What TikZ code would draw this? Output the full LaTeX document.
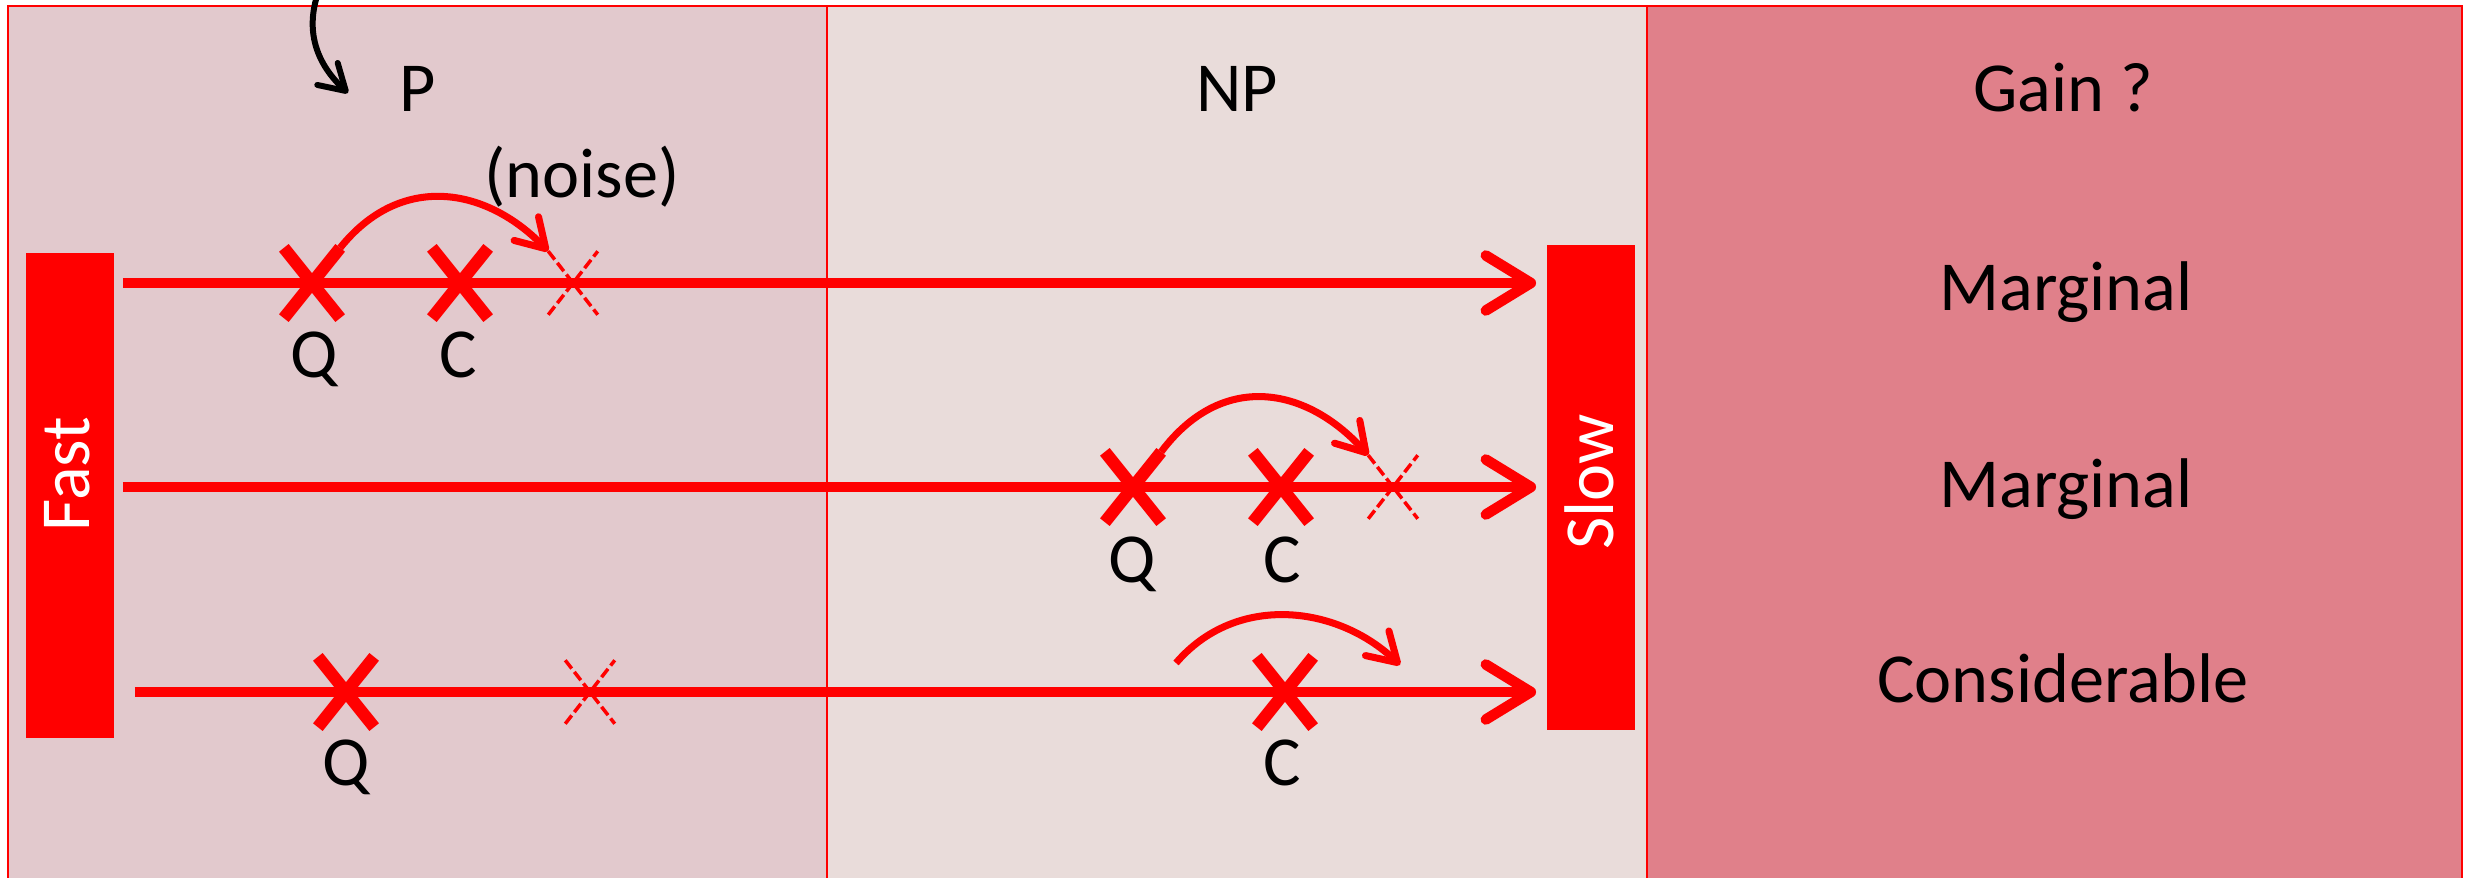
\documentclass[tikz,border=0pt]{standalone}
\usepackage{fontspec}
\setmainfont{Carlito}
\usetikzlibrary{arrows.meta,shapes.misc}
\definecolor{panelp}{RGB}{226,201,205}
\definecolor{panelnp}{RGB}{233,220,218}
\definecolor{panelgain}{RGB}{224,128,138}
\begin{document}
\begin{tikzpicture}[line width=0.8pt, font=\fontsize{20}{24}\selectfont,
  panel/.style={draw=red, line width=0.8pt},
  bar/.style={fill=red, inner sep=0pt, minimum width=0.88cm, minimum height=4.85cm},
  track/.style={red, line width=3pt, shorten >=0.09cm,
    -{Straight Barb[length=0.45cm,width=0.55cm,round]}},
  crossmark/.style={cross out, draw=red, line width=3.5pt, inner sep=0pt,
    minimum width=0.44cm, minimum height=0.58cm},
  ghostmark/.style={cross out, draw=red, line width=1pt, dash pattern=on 3pt off 1.2pt,
    inner sep=0pt, minimum width=0.46cm, minimum height=0.6cm},
  hop/.style={red, line width=2pt, -{Straight Barb[length=0.28cm,width=0.34cm,round]}},
  lbl/.style={anchor=base}]
  \def\ya{5.94}\def\yb{3.90}\def\yc{1.85}
  \useasboundingbox (0,0) rectangle (24.71,8.77);
  \clip (0,0) rectangle (24.71,8.77);
  % three panels
  \draw[panel, fill=panelp] (0.08,-0.2) rectangle (8.27,8.71);
  \draw[panel, fill=panelnp] (8.27,-0.2) rectangle (16.47,8.71);
  \draw[panel, fill=panelgain] (16.47,-0.2) rectangle (24.62,8.71);
  \node[lbl] (p) at (4.18,7.65) {P};
  \node[lbl] (np) at (12.37,7.65) {NP};
  \node[lbl] (gain) at (20.63,7.65) {Gain ?};
  \node[lbl] (noise) at (5.82,6.79) {(noise)};
  % end bars
  \node[bar] (fast) at (0.695,3.815) {};
  \node[bar] (slow) at (15.905,3.895) {};
  \node[white, rotate=90] (fastlbl) at (0.67,4.03) {Fast};
  \node[white, rotate=90] (slowlbl) at (15.89,3.95) {Slow};
  % marks
  \node[crossmark] (q1) at (3.12,\ya) {};
  \node[crossmark] (c1) at (4.60,\ya) {};
  \node[ghostmark] (n1) at (5.73,\ya) {};
  \node[crossmark] (q2) at (11.33,\yb) {};
  \node[crossmark] (c2) at (12.81,\yb) {};
  \node[ghostmark] (n2) at (13.93,\yb) {};
  \node[crossmark] (q3) at (3.46,\yc) {};
  \node[ghostmark] (n3) at (5.90,\yc) {};
  \node[crossmark] (c3) at (12.85,\yc) {};
  \node[lbl] (q1lbl) at (3.14,\ya-0.95) {Q};
  \node[lbl] (c1lbl) at (4.58,\ya-0.95) {C};
  \node[lbl] (q2lbl) at (11.32,\yb-0.95) {Q};
  \node[lbl] (c2lbl) at (12.82,\yb-0.95) {C};
  \node[lbl] (q3lbl) at (3.46,\yc-0.93) {Q};
  \node[lbl] (c3lbl) at (12.82,\yc-0.93) {C};
  % tracks
  \draw[track, shorten <=0.08cm] (fast.east |- q1) -- (slow.west |- q1);
  \draw[track, shorten <=0.08cm] (fast.east |- q2) -- (slow.west |- q2);
  \draw[track, shorten <=0.2cm] (fast.east |- q3) -- (slow.west |- q3);
  % hops
  \coordinate (h3a) at (11.76,2.14);
  \coordinate (h3b) at (14.00,2.12);
  \draw[hop] (q1.north east) .. controls +(0.6,0.75) and +(-0.63,0.65) .. (n1.north west);
  \draw[hop] (q2.north east) .. controls +(0.6,0.8) and +(-0.63,0.7) .. (n2.north west);
  \draw[hop] (h3a) .. controls +(0.6,0.7) and +(-0.63,0.6) .. (h3b);
  \node[lbl] (marg1) at (20.66,5.66) {Marginal};
  \node[lbl] (marg2) at (20.66,3.70) {Marginal};
  \node[lbl] (cons) at (20.63,1.75) {Considerable};
  % incoming
  \coordinate (src) at (3.30,9.1);
  \coordinate (ptip) at (3.48,7.84);
  \draw[line width=1.7pt, -{Straight Barb[length=0.25cm,width=0.3cm,round]}]
    (src) .. controls (2.95,8.5) and (3.2,8.1) .. (ptip);
\end{tikzpicture}
\end{document}
